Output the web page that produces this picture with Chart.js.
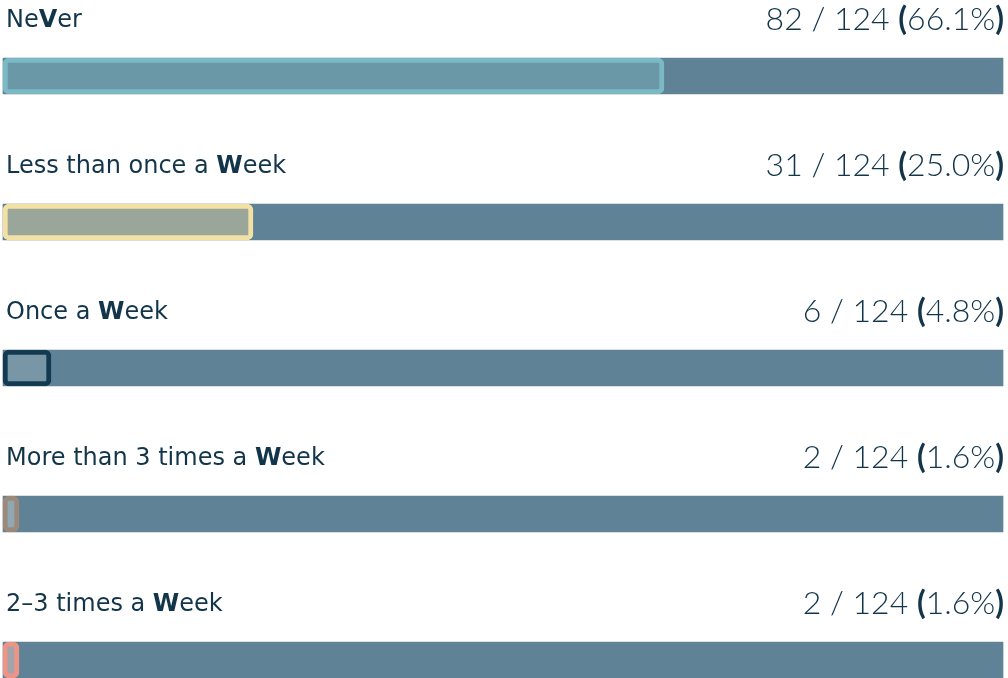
<!DOCTYPE html>
<html>
<head>
<meta charset="utf-8">
<script src="https://cdn.jsdelivr.net/npm/chart.js@4.4.0/dist/chart.umd.min.js"></script>
<style>
  html, body { margin: 0; padding: 0; background: #fff; }
  #wrap { width: 1008px; height: 678px; position: relative; }
</style>
</head>
<body>
<div id="wrap"><canvas id="chart"></canvas></div>
<script>
const categories = ['NeVer', 'Less than once a Week', 'Once a Week', 'More than 3 times a Week', '2–3 times a Week'];
const counts = [82, 31, 6, 2, 2];
const total = 124;
const percents = [66.1, 25.0, 4.8, 1.6, 1.6];
const trackValues = [100, 100, 100, 100, 100];

const borderColors = ['#7bbac4', '#f3e0a3', '#143a52', '#9b8a7a', '#ec9486'];
const fillColors = ['#6a98a6', '#9aa69a', '#7996a6', '#8fa8b4', '#a3a3ab'];
const textColor = '#13354a';

// draw text with some characters in bold
function drawRich(ctx, text, x, y, size, family, weights, boldChars, align) {
    const parts = [];
    for (const ch of text) {
        const bold = boldChars.includes(ch);
        const last = parts[parts.length - 1];
        if (last && last.bold === bold) last.text += ch;
        else parts.push({ text: ch, bold: bold });
    }
    let width = 0;
    parts.forEach(p => {
        ctx.font = (p.bold ? weights[1] : weights[0]) + ' ' + size + 'px ' + family;
        p.w = ctx.measureText(p.text).width;
        width += p.w;
    });
    let cx = align === 'right' ? x - width : x;
    parts.forEach(p => {
        ctx.font = (p.bold ? weights[1] : weights[0]) + ' ' + size + 'px ' + family;
        ctx.fillText(p.text, cx, y);
        cx += p.w;
    });
}

const textPlugin = {
    id: 'rowText',
    afterDatasetsDraw(chart) {
        const ctx = chart.ctx;
        const yScale = chart.scales.y;
        ctx.save();
        ctx.fillStyle = textColor;
        ctx.textBaseline = 'middle';
        ctx.textAlign = 'left';
        categories.forEach((cat, i) => {
            const y = yScale.getPixelForValue(i);
            drawRich(ctx, cat, 6, y - 55, 24, '"DejaVu Sans"', ['400', '700'], 'VW', 'left');
            const val = counts[i] + ' / ' + total + ' (' + percents[i].toFixed(1) + '%)';
            drawRich(ctx, val, 1004, y - 56, 32, 'Lato', ['300', '700'], '()', 'right');
        });
        ctx.restore();
    }
};

const ctx = document.getElementById('chart').getContext('2d');
new Chart(ctx, {
    type: 'bar',
    data: {
        labels: categories,
        datasets: [{
            label: 'Responses',
            data: percents,
            backgroundColor: fillColors,
            borderColor: borderColors,
            borderWidth: 5,
            borderRadius: 6,
            borderSkipped: false,
            barThickness: 36,
            clip: false
        }, {
            label: 'Track',
            data: trackValues,
            backgroundColor: '#5f8297',
            borderWidth: 0,
            barThickness: 36,
            clip: false
        }]
    },
    options: {
        indexAxis: 'y',
        responsive: true,
        maintainAspectRatio: false,
        animation: false,
        datasets: { bar: { grouped: false } },
        layout: { padding: { left: 3, right: 5, top: 76, bottom: 18 } },
        scales: {
            x: { display: false, min: 0, max: 100 },
            y: { display: false, offset: false }
        },
        plugins: {
            legend: { display: false },
            tooltip: { enabled: false }
        }
    },
    plugins: [textPlugin]
});
</script>
</body>
</html>
